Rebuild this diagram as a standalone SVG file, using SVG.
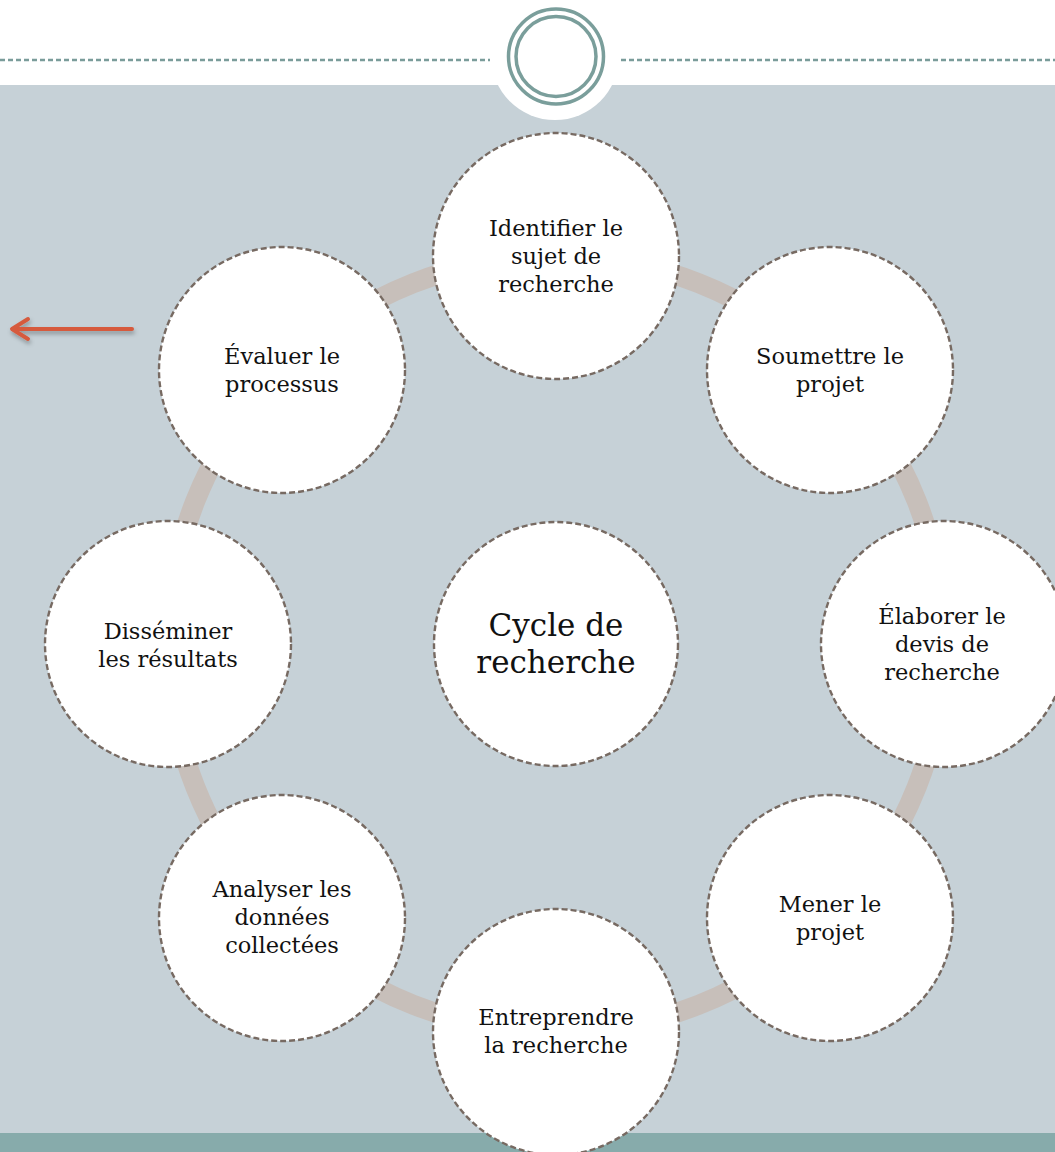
<svg xmlns="http://www.w3.org/2000/svg" width="1055" height="1152" viewBox="0 0 1055 1152">
<style>
.node circle{fill:#ffffff;stroke:#776a62;stroke-width:2.4;stroke-dasharray:6 3}
.node text{font-family:"DejaVu Serif","Liberation Serif",serif;font-size:22.5px;fill:#111111;text-anchor:middle}
.center text{font-size:31px}
.hdash{stroke:#7a9c9a;stroke-width:2.4;stroke-dasharray:5 3}
</style>
<defs>
<filter id="sh" x="-20%" y="-100%" width="140%" height="300%">
<feDropShadow dx="1" dy="3" stdDeviation="2" flood-color="#000000" flood-opacity="0.3"/>
</filter>
</defs>
<rect x="0" y="0" width="1055" height="1152" fill="#ffffff"/>
<rect x="0" y="85" width="1055" height="1048" fill="#c6d1d7"/>
<rect x="0" y="1133" width="1055" height="19" fill="#87abab"/>
<circle cx="555" cy="56" r="64" fill="#ffffff"/>
<line class="hdash" x1="0" y1="60" x2="490" y2="60"/>
<line class="hdash" x1="621" y1="60" x2="1055" y2="60"/>
<circle cx="556" cy="56.5" r="47.5" fill="none" stroke="#7a9e9b" stroke-width="3.5"/>
<circle cx="556" cy="56.5" r="40" fill="none" stroke="#7a9e9b" stroke-width="3.5"/>
<g id="back-arrow" filter="url(#sh)" fill="none" stroke="#d65a3e" stroke-width="4" stroke-linecap="round" stroke-linejoin="round">
<line x1="132" y1="329" x2="13" y2="329"/>
<polyline points="28,319 12,329 28,339"/>
</g>
<g id="connectors">
<circle cx="556" cy="644" r="388" fill="none" stroke="#c7bfba" stroke-width="20"/>
</g>
<g id="n-center" class="node center">
<circle cx="556" cy="644" r="122"/>
<text x="556" y="636">Cycle de</text>
<text x="556" y="673">recherche</text>
</g>
<g id="n-identifier" class="node">
<circle cx="556" cy="256" r="123"/>
<text x="556" y="236">Identifier le</text>
<text x="556" y="264">sujet de</text>
<text x="556" y="292">recherche</text>
</g>
<g id="n-soumettre" class="node">
<circle cx="830" cy="370" r="123"/>
<text x="830" y="364">Soumettre le</text>
<text x="830" y="392">projet</text>
</g>
<g id="n-elaborer" class="node">
<circle cx="944" cy="644" r="123"/>
<text x="942" y="624">Élaborer le</text>
<text x="942" y="652">devis de</text>
<text x="942" y="680">recherche</text>
</g>
<g id="n-mener" class="node">
<circle cx="830" cy="918" r="123"/>
<text x="830" y="912">Mener le</text>
<text x="830" y="940">projet</text>
</g>
<g id="n-entreprendre" class="node">
<circle cx="556" cy="1032" r="123"/>
<text x="556" y="1025">Entreprendre</text>
<text x="556" y="1053">la recherche</text>
</g>
<g id="n-analyser" class="node">
<circle cx="282" cy="918" r="123"/>
<text x="282" y="897">Analyser les</text>
<text x="282" y="925">données</text>
<text x="282" y="953">collectées</text>
</g>
<g id="n-disseminer" class="node">
<circle cx="168" cy="644" r="123"/>
<text x="168" y="639">Disséminer</text>
<text x="168" y="667">les résultats</text>
</g>
<g id="n-evaluer" class="node">
<circle cx="282" cy="370" r="123"/>
<text x="282" y="364">Évaluer le</text>
<text x="282" y="392">processus</text>
</g>
</svg>
